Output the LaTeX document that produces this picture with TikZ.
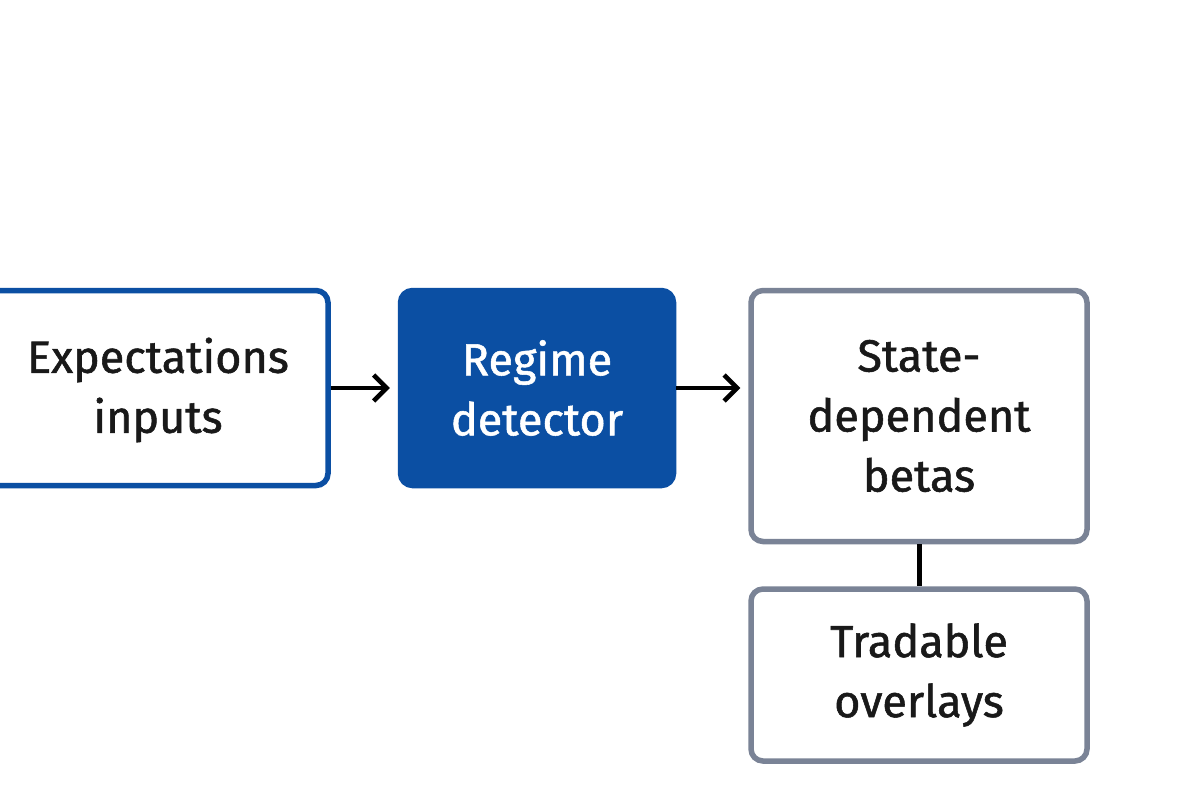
\documentclass[tikz,border=0pt]{standalone}
\usepackage{fontspec}
\setmainfont{Fira Sans}[BoldFont=Fira Sans,BoldFeatures={FakeBold=1.2}]
\usetikzlibrary{arrows.meta}
\definecolor{bblue}{HTML}{0B4FA3}
\definecolor{gbord}{HTML}{7A8396}
\begin{document}
\begin{tikzpicture}[x=1pt,y=-1pt,
  txt/.style={align=center,font=\fontsize{45}{60}\selectfont\bfseries,text=black!90},
  box/.style={draw,line width=5.5pt,rounded corners=12pt,fill=white,txt,inner sep=0pt},
  arr/.style={line width=4.5pt,-{Straight Barb[length=13pt,width=26pt,line width=4.5pt]}}]
\useasboundingbox (0,0) rectangle (1200,800);
\fill[white] (0,0) rectangle (1200,800);
\begin{scope}
\clip (0,0) rectangle (1200,800);
\node[box,draw=bblue,minimum width=350pt,minimum height=195pt] (a) at (153,388) {};
\end{scope}
\node[txt] (at) at (158,390) {Expectations\\inputs};
\node[box,draw=bblue,fill=bblue,text=white,minimum width=273pt,minimum height=195pt] (b) at (537,388) {Regime\\detector};
\node[box,draw=gbord,minimum width=336pt,minimum height=251pt] (c) at (919,416) {State-\\dependent\\betas};
\node[box,draw=gbord,minimum width=336pt,minimum height=172pt] (d) at (919,675) {Tradable\\overlays};
\draw[arr] (a.east) -- ([xshift=-8pt]b.west);
\draw[arr] (b.east) -- ([xshift=-8pt]c.west |- b.east);
\draw[line width=5pt] (c.south) -- (d.north);
\end{tikzpicture}
\end{document}
